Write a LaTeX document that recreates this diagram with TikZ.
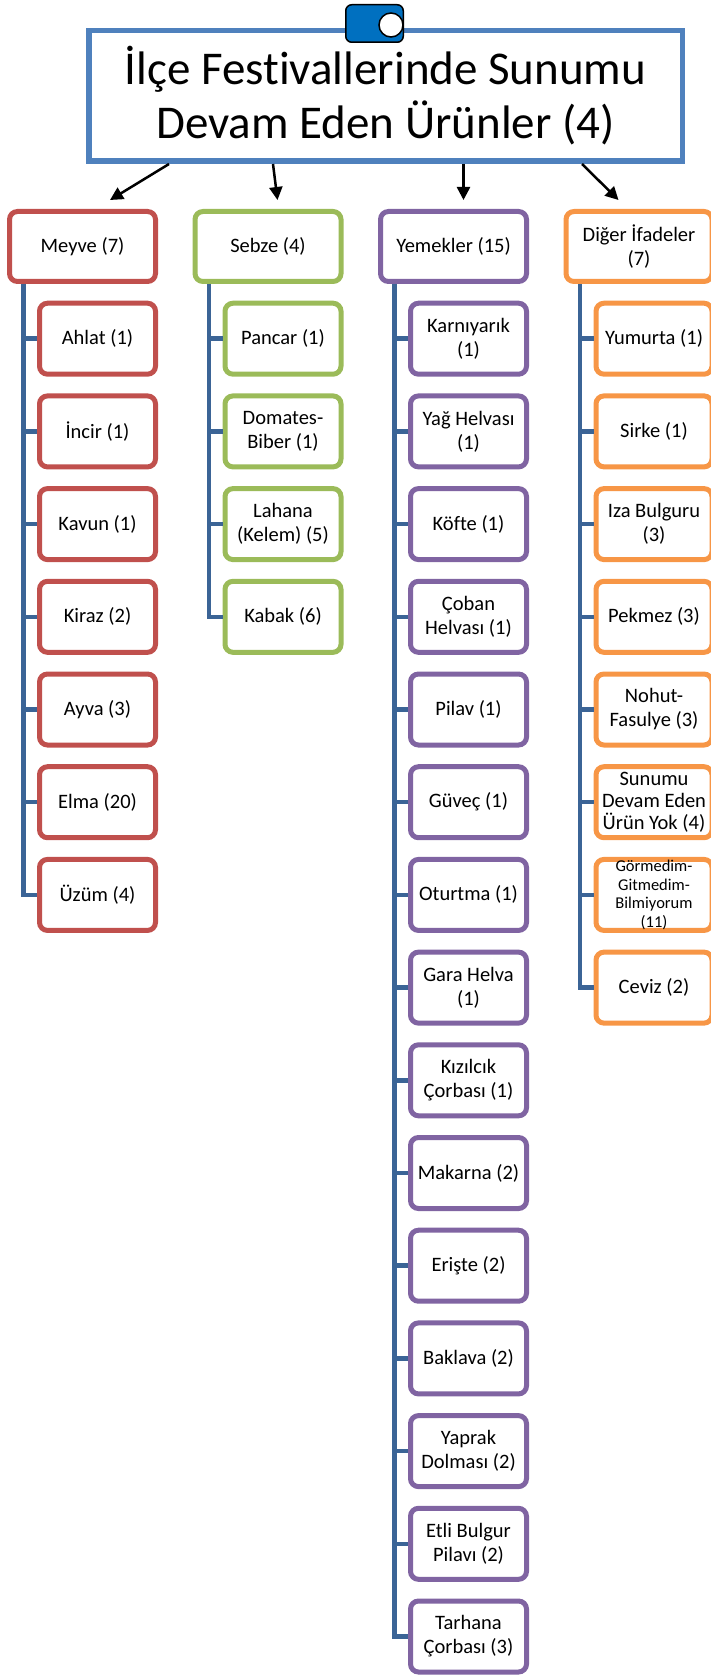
\documentclass[tikz,border=0pt]{standalone}
\usepackage{fontspec}
\setmainfont{Carlito}[Ligatures=NoCommon]
\usetikzlibrary{arrows.meta, positioning}

\definecolor{titleblue}{HTML}{4F81BD}
\definecolor{toggleblue}{HTML}{0070C0}
\definecolor{spineblue}{HTML}{3B6496}
\definecolor{meyvered}{HTML}{C0504D}
\definecolor{sebzegreen}{HTML}{9BBB59}
\definecolor{yemekpurple}{HTML}{8064A2}
\definecolor{digerorange}{HTML}{F79646}

\begin{document}
\begin{tikzpicture}[
	x=1pt, y=-1pt,
	node distance=16.7pt,
	titlebox/.style={draw=titleblue, line width=5.5pt, fill=white, align=center, minimum width=593.5pt, minimum height=130.5pt, font=\fontsize{47pt}{54pt}\selectfont},
	headbox/.style={draw=#1, line width=5pt, rounded corners=8pt, fill=white, align=center, minimum width=146pt, minimum height=70pt, inner sep=2pt, font=\fontsize{20.5pt}{24pt}\selectfont},
	itembox/.style={draw=#1, line width=5pt, rounded corners=8pt, fill=white, align=center, minimum width=116pt, minimum height=71pt, inner sep=0pt, font=\fontsize{20.5pt}{24pt}\selectfont},
	spine/.style={draw=spineblue, line width=4.5pt},
	arrow/.style={-{Triangle[length=13pt, width=13pt]}, line width=2.5pt}
]
\useasboundingbox (0,0) rectangle (711,1677);

% title and switch
\node[titlebox] (title) at (385.5,96) {İlçe Festivallerinde Sunumu\\Devam Eden Ürünler (4)};
\node[draw=black, line width=1.5pt, fill=toggleblue, rounded corners=6pt, minimum width=57.5pt, minimum height=37.5pt, inner sep=0pt] (toggle) at (374.5,23.5) {};
\node[circle, draw=black, line width=1.5pt, fill=white, minimum size=24pt, inner sep=0pt] (knob) at (391,25) {};

% group heads
\node[headbox=meyvered] (meyve) at (82.5,246.5) {Meyve (7)};
\node[headbox=sebzegreen, right=34.5pt of meyve] (sebze) {Sebze (4)};
\node[headbox=yemekpurple, right=34.5pt of sebze] (yemek) {Yemekler (15)};
\node[headbox=digerorange, right=34.5pt of yemek] (diger) {Diğer İfadeler\\(7)};

\draw[arrow] ([xshift=83pt]title.south west) -- ([xshift=27.5pt, yshift=9pt]meyve.north);
\draw[arrow] ([xshift=187pt]title.south west) -- ([xshift=9.5pt, yshift=9pt]sebze.north);
\draw[arrow] ([xshift=377.5pt]title.south west) -- ([xshift=10pt, yshift=9pt]yemek.north);
\draw[arrow] ([xshift=496pt]title.south west) -- ([xshift=-20.5pt, yshift=9pt]diger.north);

% Meyve
\node[itembox=meyvered, below=of meyve, xshift=15pt] (m1) {Ahlat (1)};
\node[itembox=meyvered, below=of m1] (m2) {İncir (1)};
\node[itembox=meyvered, below=of m2] (m3) {Kavun (1)};
\node[itembox=meyvered, below=of m3] (m4) {Kiraz (2)};
\node[itembox=meyvered, below=of m4] (m5) {Ayva (3)};
\node[itembox=meyvered, below=of m5] (m6) {Elma (20)};
\node[itembox=meyvered, below=of m6] (m7) {Üzüm (4)};

% Sebze
\node[itembox=sebzegreen, below=of sebze, xshift=15pt] (s1) {Pancar (1)};
\node[itembox=sebzegreen, below=of s1] (s2) {Domates-\\Biber (1)};
\node[itembox=sebzegreen, below=of s2] (s3) {Lahana\\(Kelem) (5)};
\node[itembox=sebzegreen, below=of s3] (s4) {Kabak (6)};

% Yemekler
\node[itembox=yemekpurple, below=of yemek, xshift=15pt] (y1) {Karnıyarık\\(1)};
\node[itembox=yemekpurple, below=of y1] (y2) {Yağ Helvası\\(1)};
\node[itembox=yemekpurple, below=of y2] (y3) {Köfte (1)};
\node[itembox=yemekpurple, below=of y3] (y4) {Çoban\\Helvası (1)};
\node[itembox=yemekpurple, below=of y4] (y5) {Pilav (1)};
\node[itembox=yemekpurple, below=of y5] (y6) {Güveç (1)};
\node[itembox=yemekpurple, below=of y6] (y7) {Oturtma (1)};
\node[itembox=yemekpurple, below=of y7] (y8) {Gara Helva\\(1)};
\node[itembox=yemekpurple, below=of y8] (y9) {Kızılcık\\Çorbası (1)};
\node[itembox=yemekpurple, below=of y9] (y10) {Makarna (2)};
\node[itembox=yemekpurple, below=of y10] (y11) {Erişte (2)};
\node[itembox=yemekpurple, below=of y11] (y12) {Baklava (2)};
\node[itembox=yemekpurple, below=of y12] (y13) {Yaprak\\Dolması (2)};
\node[itembox=yemekpurple, below=of y13] (y14) {Etli Bulgur\\Pilavı (2)};
\node[itembox=yemekpurple, below=of y14] (y15) {Tarhana\\Çorbası (3)};

% Diğer ifadeler
\node[itembox=digerorange, below=of diger, xshift=15pt] (d1) {Yumurta (1)};
\node[itembox=digerorange, below=of d1] (d2) {Sirke (1)};
\node[itembox=digerorange, below=of d2] (d3) {Iza Bulguru\\(3)};
\node[itembox=digerorange, below=of d3] (d4) {Pekmez (3)};
\node[itembox=digerorange, below=of d4] (d5) {Nohut-\\Fasulye (3)};
\node[itembox=digerorange, below=of d5, font=\fontsize{20.5pt}{22pt}\selectfont] (d6) {Sunumu\\Devam Eden\\Ürün Yok (4)};
\node[itembox=digerorange, below=of d6, font=\fontsize{16.5pt}{18.5pt}\selectfont] (d7) {Görmedim-\\Gitmedim-\\Bilmiyorum\\(11)};
\node[itembox=digerorange, below=of d7] (d8) {Ceviz (2)};

% spines
\coordinate (meyve-top) at ([xshift=16.5pt]meyve.south west);
\coordinate (sebze-top) at ([xshift=16.5pt]sebze.south west);
\coordinate (yemek-top) at ([xshift=16.5pt]yemek.south west);
\coordinate (diger-top) at ([xshift=16.5pt]diger.south west);

\draw[spine] (meyve-top) |- (m7.west);
\draw[spine] (meyve-top |- m1.west) -- (m1.west);
\draw[spine] (meyve-top |- m2.west) -- (m2.west);
\draw[spine] (meyve-top |- m3.west) -- (m3.west);
\draw[spine] (meyve-top |- m4.west) -- (m4.west);
\draw[spine] (meyve-top |- m5.west) -- (m5.west);
\draw[spine] (meyve-top |- m6.west) -- (m6.west);

\draw[spine] (sebze-top) |- (s4.west);
\draw[spine] (sebze-top |- s1.west) -- (s1.west);
\draw[spine] (sebze-top |- s2.west) -- (s2.west);
\draw[spine] (sebze-top |- s3.west) -- (s3.west);

\draw[spine] (yemek-top) |- (y15.west);
\draw[spine] (yemek-top |- y1.west) -- (y1.west);
\draw[spine] (yemek-top |- y2.west) -- (y2.west);
\draw[spine] (yemek-top |- y3.west) -- (y3.west);
\draw[spine] (yemek-top |- y4.west) -- (y4.west);
\draw[spine] (yemek-top |- y5.west) -- (y5.west);
\draw[spine] (yemek-top |- y6.west) -- (y6.west);
\draw[spine] (yemek-top |- y7.west) -- (y7.west);
\draw[spine] (yemek-top |- y8.west) -- (y8.west);
\draw[spine] (yemek-top |- y9.west) -- (y9.west);
\draw[spine] (yemek-top |- y10.west) -- (y10.west);
\draw[spine] (yemek-top |- y11.west) -- (y11.west);
\draw[spine] (yemek-top |- y12.west) -- (y12.west);
\draw[spine] (yemek-top |- y13.west) -- (y13.west);
\draw[spine] (yemek-top |- y14.west) -- (y14.west);

\draw[spine] (diger-top) |- (d8.west);
\draw[spine] (diger-top |- d1.west) -- (d1.west);
\draw[spine] (diger-top |- d2.west) -- (d2.west);
\draw[spine] (diger-top |- d3.west) -- (d3.west);
\draw[spine] (diger-top |- d4.west) -- (d4.west);
\draw[spine] (diger-top |- d5.west) -- (d5.west);
\draw[spine] (diger-top |- d6.west) -- (d6.west);
\draw[spine] (diger-top |- d7.west) -- (d7.west);
\end{tikzpicture}
\end{document}
